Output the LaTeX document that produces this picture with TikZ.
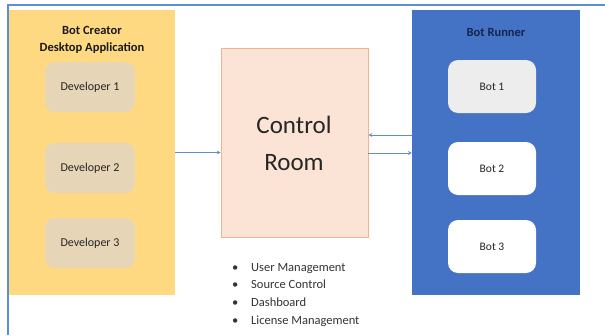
\documentclass[tikz,border=0pt]{standalone}
\usepackage{fontspec}
\setmainfont{Carlito}
\usepackage{tikz}
\usetikzlibrary{arrows,backgrounds,calc}
\definecolor{frameblue}{HTML}{5B8FD4}
\definecolor{creatorfill}{HTML}{FFD982}
\definecolor{devfill}{HTML}{E6D5B6}
\definecolor{controlfill}{HTML}{FBE4D5}
\definecolor{controlborder}{HTML}{F2B48E}
\definecolor{runnerfill}{HTML}{4472C4}
\definecolor{runnertext}{HTML}{16244F}
\definecolor{bot1fill}{HTML}{EDEDED}
\definecolor{linkblue}{HTML}{5B8FC9}

\begin{document}
\begin{tikzpicture}[x=1pt,y=-1pt,
  panel/.style={minimum width=166pt,minimum height=285pt,inner sep=0pt},
  titletext/.style={font=\bfseries\fontsize{12.5}{16.5}\selectfont,align=center,text=black!90},
  devbox/.style={fill=devfill,rounded corners=10pt,minimum width=90pt,minimum height=50pt,
    text=black!85,font=\fontsize{12}{14}\selectfont},
  botbox/.style={fill=white,rounded corners=10pt,minimum width=88pt,minimum height=53pt,
    text=black!85,font=\fontsize{11.5}{13}\selectfont},
  itemtext/.style={anchor=base west,inner sep=0pt,text=black!80,font=\fontsize{12.5}{14}\selectfont},
  link/.style={draw=linkblue,line width=0.7pt,-stealth}]
\useasboundingbox (0,0) rectangle (605,335);
\draw[frameblue,line width=1.6pt] (8,335) -- (8,5) -- (605,5);

\node[panel,fill=creatorfill] (creator) at (92,152.5) {};
\node[titletext] (creatortitle) at (92,40) {Bot Creator\\Desktop Application};
\node[devbox] (dev1) at (90,87) {Developer 1};
\node[devbox] (dev2) at (90,168) {Developer 2};
\node[devbox] (dev3) at (90,243) {Developer 3};

\node[draw=controlborder,fill=controlfill,line width=0.9pt,minimum width=147pt,minimum height=189pt] (control) at (294.5,142.5) {};
\node[font=\fontsize{25}{37}\selectfont,align=center,text=black!85] (controltext) at (294,143) {Control\\Room};

\node[panel,minimum width=168pt,fill=runnerfill] (runner) at (496,152.5) {};
\node[titletext,text=runnertext] (runnertitle) at (496,32) {Bot Runner};
\node[botbox,fill=bot1fill] (bot1) at (492,86.5) {Bot 1};
\node[botbox] (bot2) at (492,168.5) {Bot 2};
\node[botbox] (bot3) at (492,246.5) {Bot 3};

\foreach \txt [count=\i] in {User Management,Source Control,Dashboard,License Management}
  \node[itemtext] (item\i) at (232,{271+17.7*(\i-1)}) {\makebox[19pt][l]{\textbullet}\txt};

\coordinate (upper) at (0,135);
\coordinate (lower) at (0,153);
\draw[link] (creator.east) -- (creator.east -| control.west);
\draw[link] (runner.west |- upper) -- (control.east |- upper);
\draw[link] (control.east |- lower) -- (runner.west |- lower);
\end{tikzpicture}
\end{document}
